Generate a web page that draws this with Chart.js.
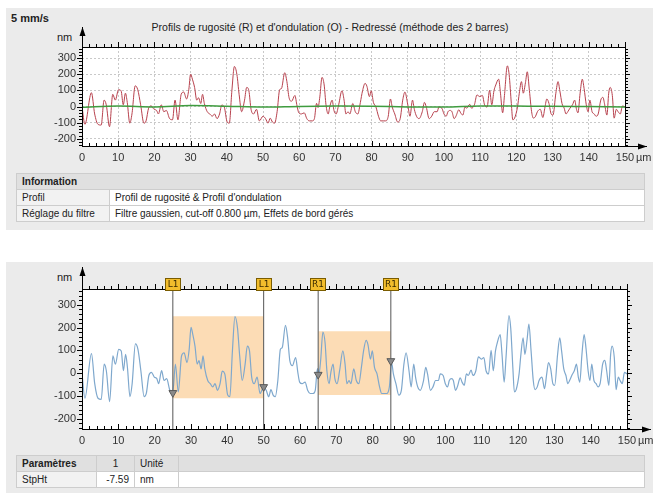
<!DOCTYPE html>
<html>
<head>
<meta charset="utf-8">
<script src="https://cdn.jsdelivr.net/npm/chart.js@4.4.1/dist/chart.umd.min.js"></script>
<style>
body { margin:0; width:653px; height:493px; background:#fff; position:relative; overflow:hidden; font-family:"Liberation Sans", Arial, sans-serif; }
.panel { position:absolute; background:#ebebeb; }
.lbl { position:absolute; font-size:11px; line-height:12px; color:#222; white-space:nowrap; }
canvas { position:absolute; left:0; }
table { position:absolute; border-collapse:collapse; font-size:10px; color:#222; table-layout:fixed; }
td { border:1px solid #cdcdcd; padding:0 5px; height:15px; line-height:15px; white-space:nowrap; background:#fff; }
tr.tete td { background:#e0e0e0; }
td.nom { background:#f2f2f2; }
</style>
</head>
<body>
<div class="panel" style="left:6px;top:8px;width:647px;height:222px"></div>
<div class="panel" style="left:6px;top:262px;width:647px;height:231px"></div>

<div class="lbl" style="left:11px;top:12px;font-weight:bold">5 mm/s</div>
<div class="lbl" style="left:0;width:660px;text-align:center;top:21px;font-size:10.5px">Profils de rugosité (R) et d'ondulation (O) - Redressé (méthode des 2 barres)</div>
<div class="lbl" style="left:57px;top:31px">nm</div>
<div class="lbl" style="left:57px;top:271px">nm</div>

<canvas id="haut" width="653" height="170" style="top:0"></canvas>
<canvas id="bas" width="653" height="195" style="top:255px"></canvas>

<table style="left:16px;top:173px;width:629px">
  <colgroup><col style="width:93px"><col></colgroup>
  <tr class="tete"><td colspan="2" style="font-weight:bold">Information</td></tr>
  <tr><td class="nom">Profil</td><td>Profil de rugosité &amp; Profil d'ondulation</td></tr>
  <tr><td class="nom">Réglage du filtre</td><td>Filtre gaussien, cut-off 0.800 µm, Effets de bord gérés</td></tr>
</table>

<table style="left:16px;top:455px;width:629px">
  <colgroup><col style="width:80px"><col style="width:38px"><col style="width:44px"><col></colgroup>
  <tr class="tete"><td style="font-weight:bold">Paramètres</td><td style="text-align:center">1</td><td>Unité</td><td></td></tr>
  <tr><td class="nom">StpHt</td><td style="text-align:right">-7.59</td><td>nm</td><td></td></tr>
</table>

<script>
// profil de rugosité (µm / nm)
const profilX = [0, 0.8, 2.6, 3.5, 4.4, 5.3, 6.1, 6.7, 7.6, 8.5, 9.2, 10.1, 10.8, 11.4, 12, 12.5, 13.2, 13.8, 14.7, 15.4,
  16.2, 17.1, 17.7, 18.4, 19.1, 19.9, 20.6, 21.1, 21.9, 22.6, 23.3, 24.2, 25, 25.7, 26.5, 27.4, 28.1, 28.9, 29.5, 30,
  30.5, 31.1, 31.7, 32.2, 32.8, 33.3, 33.8, 34.6, 35.3, 36, 36.6, 37.3, 38, 38.6, 39.3, 40.1, 40.7, 41.4, 42.1, 42.8,
  43.4, 44.1, 44.9, 45.5, 46.1, 46.7, 47.4, 48.2, 49, 50, 50.7, 51.4, 52, 52.6, 53.2, 53.9, 54.6, 55.1, 56, 56.6,
  57.2, 57.9, 58.8, 59.4, 59.9, 60.6, 61.4, 62.1, 62.8, 63.6, 64.2, 64.8, 65.2, 65.7, 66.3, 66.9, 67.4, 68, 68.5, 69.1,
  69.6, 70.2, 70.9, 71.8, 72.4, 72.9, 73.5, 74, 74.8, 75.5, 76.2, 76.9, 77.5, 78.2, 78.7, 79.4, 79.9, 80.5, 81.2, 81.9,
  82.5, 83.2, 83.9, 84.6, 85.2, 85.7, 86.4, 87.2, 87.9, 88.6, 89.2, 90, 90.6, 91.3, 91.8, 92.4, 93.1, 94, 94.6, 95.1,
  95.9, 96.6, 97.3, 98.1, 98.6, 99.4, 100, 100.6, 101.1, 101.7, 102.2, 102.8, 103.3, 104.1, 104.6, 105.2, 105.8, 106.3, 107.1, 107.6,
  108.4, 109.1, 109.9, 110.6, 111.2, 111.9, 112.6, 113.2, 113.8, 114.3, 115.1, 115.6, 116.2, 116.7, 117.5, 118, 118.6, 119, 119.5, 120.3,
  120.8, 121.4, 121.9, 122.5, 123, 123.6, 124.2, 124.7, 125.3, 125.8, 126.6, 127.3, 127.9, 128.4, 129, 129.6, 130.1, 130.9, 131.5, 132,
  132.6, 133.2, 133.7, 134.2, 134.8, 135.5, 136.1, 136.6, 137, 137.6, 138.2, 138.7, 139.3, 139.8, 140.3, 140.9, 141.5, 142, 142.6, 143.3,
  143.9, 144.4, 145, 145.5, 145.9, 146.5, 147, 147.6, 148.1, 148.7, 149.3, 150];
const profilY = [0, -110, 86, -46, -110, -115, 40, 11, -125, 76, 40, 105, 98, 11, 83, 26, -103, -46, 129, 105,
  11, -103, -89, -10, 4, -17, -24, -46, 11, -32, -24, -75, -82, 40, -82, 76, 90, 47, 105, 201,
  170, 119, 40, 55, 19, 76, 19, -32, -46, -60, -46, -75, -46, 9, -3, -96, -103, 98, 249, 198,
  76, -32, 40, 119, 98, -17, -46, -17, -89, -60, -75, -103, -72, -96, -103, -32, 105, 112, 210, 155,
  55, 33, 69, 4, -39, -46, -39, -75, -89, -89, -75, 20, -6, 60, 181, 134, 11, -46, 4, 40,
  -24, -46, 11, 98, 40, -46, -32, -46, 19, -32, -46, 26, 98, 144, 126, 62, 98, 26, -3, -60,
  -89, -89, -89, -60, 47, -3, -46, -96, -75, 40, 90, 11, -60, 40, -17, -60, -75, -32, 26, -3,
  -75, -60, -32, -32, -3, -10, -46, -60, -32, -24, -32, -75, -60, -20, -39, -53, -3, -10, 14, -10,
  11, 72, 62, 69, 11, -3, 101, 11, 98, 134, 170, 83, -39, 69, 253, 198, 19, -82, -72, -3,
  83, 155, 83, 148, 216, 98, -32, -72, -60, -32, -17, -68, -3, 47, 19, -46, -53, 83, 155, 98,
  19, -10, -46, -32, -10, 11, 40, -17, -39, 83, 170, 112, 11, -32, 40, -32, -46, -60, -46, 40,
  57, 11, -53, 83, 119, 69, -72, -17, -32, -46, 4, -3];

// profil d'ondulation
const ondulX = [0, 10, 20, 30, 40, 50, 60, 70, 80, 90, 100, 110, 120, 130, 140, 150];
const ondulY = [-4, 3, -2, 6, 2, -3, 1, 3, 2, -2, -3, 4, 3, 2, 0, -2];

// curseurs et zones de hauteur de marche
const curseurX = [25, 50, 65, 85];
const curseurNoms = ['L1', 'L1', 'R1', 'R1'];
const curseurY = [-86, -60, -6, 54];
const zoneDebut = [25, 65];
const zoneFin = [50, 85];
const zoneHaut = [250, 184];
const zoneBas = [-110, -96];

const yMin = -245, yMax = 370;

const points = (xs, ys) => xs.map((v, i) => ({ x: v, y: ys[i] }));

const cadre = {
  id: 'cadre',
  beforeDraw(chart) {
    const { ctx, chartArea: a } = chart;
    ctx.save();
    ctx.fillStyle = '#fff';
    ctx.fillRect(a.left, a.top, a.right - a.left, a.bottom - a.top);
    ctx.restore();
  },
  afterDraw(chart) {
    const { ctx, chartArea: a, scales: { x, y } } = chart;
    const o = chart.options.plugins.cadre;
    ctx.save();
    ctx.strokeStyle = '#000';
    ctx.fillStyle = '#000';
    ctx.lineWidth = 1;
    ctx.beginPath();
    for (let v = 0; v <= 150; v += 2) {
      const px = Math.round(x.getPixelForValue(v)) + 0.5;
      const len = v % 10 === 0 ? 5 : 3;
      ctx.moveTo(px, a.top); ctx.lineTo(px, a.top - len);
      ctx.moveTo(px, a.bottom); ctx.lineTo(px, a.bottom - len);
    }
    for (let v = -240; v <= 360; v += 20) {
      const py = Math.round(y.getPixelForValue(v)) + 0.5;
      const len = v % 100 === 0 ? 5 : 3;
      ctx.moveTo(a.left, py); ctx.lineTo(a.left - len, py);
      ctx.moveTo(a.right, py); ctx.lineTo(a.right + len, py);
    }
    ctx.stroke();
    const L = Math.round(a.left) + 0.5, T = Math.round(a.top) + 0.5;
    const R = Math.round(a.right) + 0.5, B = Math.round(a.bottom) + 0.5;
    ctx.strokeRect(L, T, R - L, B - T);
    // fleches
    ctx.beginPath();
    ctx.moveTo(L, T); ctx.lineTo(L, o.flecheY);
    ctx.moveTo(R, B); ctx.lineTo(o.flecheX, B);
    ctx.stroke();
    ctx.beginPath();
    ctx.moveTo(L, o.flecheY); ctx.lineTo(L - 3, o.flecheY + 9); ctx.lineTo(L + 3, o.flecheY + 9); ctx.closePath();
    ctx.moveTo(o.flecheX, B); ctx.lineTo(o.flecheX - 9, B - 3); ctx.lineTo(o.flecheX - 9, B + 3); ctx.closePath();
    ctx.fill();
    // unite
    ctx.font = '11px "Liberation Sans", Arial, sans-serif';
    ctx.fillStyle = '#333';
    ctx.textBaseline = 'middle';
    ctx.textAlign = 'left';
    ctx.fillText('µm', x.getPixelForValue(150) + 11, B + 11);
    // etiquettes des curseurs
    if (o.curseurs) {
      ctx.font = '9px "DejaVu Sans", sans-serif';
      ctx.textAlign = 'center';
      curseurX.forEach((v, i) => {
        const px = Math.round(x.getPixelForValue(v));
        ctx.fillStyle = '#f2bd2c';
        ctx.fillRect(px - 7.5, T - 11, 15, 12);
        ctx.strokeStyle = '#7a5c00';
        ctx.strokeRect(px - 7.5, T - 11, 15, 12);
        ctx.fillStyle = '#3b2b00';
        ctx.fillText(curseurNoms[i], px, T - 4.5);
      });
    }
    ctx.restore();
  }
};

function echelles(hauteurX, grille) {
  const police = { family: '"Liberation Sans", Arial, sans-serif', size: 11 };
  return {
    x: {
      type: 'linear', min: 0, max: 150,
      afterFit: (s) => { s.height = hauteurX; },
      ticks: { stepSize: 10, autoSkip: false, maxRotation: 0, padding: 5, color: '#333', font: police, includeBounds: false },
      grid: { display: grille, color: '#c9c9c9', drawTicks: false },
      border: { display: false, dash: [2, 2] }
    },
    y: {
      type: 'linear', min: yMin, max: yMax,
      afterFit: (s) => { s.width = 82; },
      ticks: { stepSize: 100, padding: 6, color: '#333', font: police, includeBounds: false },
      grid: { display: grille, color: '#c9c9c9', drawTicks: false },
      border: { display: false, dash: [2, 2] }
    }
  };
}

new Chart(document.getElementById('haut'), {
  type: 'line',
  data: {
    datasets: [
      { data: points(ondulX, ondulY), borderColor: '#3f9c3f', borderWidth: 1.5, pointRadius: 0, cubicInterpolationMode: 'monotone', order: 1 },
      { data: points(profilX, profilY), borderColor: '#b8424e', borderWidth: 1, pointRadius: 0, cubicInterpolationMode: 'monotone', order: 2 }
    ]
  },
  options: {
    responsive: false, animation: false,
    layout: { padding: { top: 47, right: 28, left: 0, bottom: 0 } },
    scales: echelles(24, true),
    plugins: { legend: { display: false }, tooltip: { enabled: false }, cadre: { flecheY: 27, flecheX: 647, curseurs: false } }
  },
  plugins: [cadre]
});

const jeuxBas = [
  { data: points(profilX, profilY), borderColor: '#7fa8cd', borderWidth: 1.2, pointRadius: 0, cubicInterpolationMode: 'monotone', order: 5 },
  { data: points(curseurX, curseurY), showLine: false, pointStyle: 'triangle', rotation: 180, pointRadius: 4.5,
    backgroundColor: '#8a8a8a', borderColor: '#5a5a5a', borderWidth: 1, order: 1 }
];
zoneDebut.forEach((d, i) => {
  jeuxBas.push({ data: [{ x: d, y: zoneHaut[i] }, { x: zoneFin[i], y: zoneHaut[i] }], fill: { value: zoneBas[i] },
    backgroundColor: '#fcdcb5', borderWidth: 0, pointRadius: 0, order: 10 });
});
curseurX.forEach((v) => {
  jeuxBas.push({ data: [{ x: v, y: yMin }, { x: v, y: yMax }], borderColor: '#555', borderWidth: 1, pointRadius: 0, order: 2 });
});

new Chart(document.getElementById('bas'), {
  type: 'line',
  data: { datasets: jeuxBas },
  options: {
    responsive: false, animation: false,
    layout: { padding: { top: 34, right: 26, left: 0, bottom: 0 } },
    scales: echelles(21, false),
    plugins: { legend: { display: false }, tooltip: { enabled: false }, cadre: { flecheY: 12, flecheX: 651, curseurs: true } }
  },
  plugins: [cadre]
});
</script>
</body>
</html>
